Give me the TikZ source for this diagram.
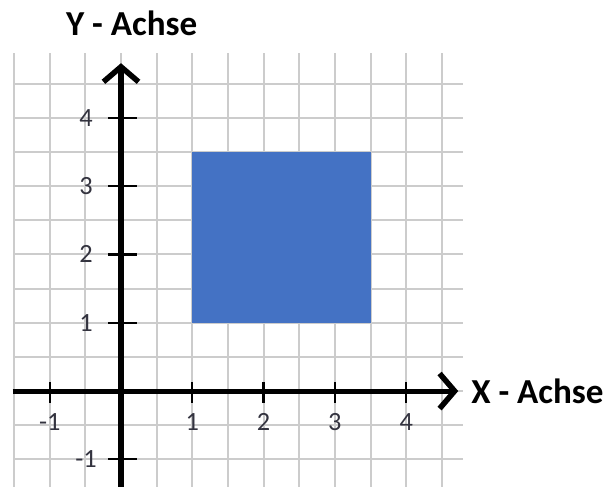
\documentclass[tikz,border=0pt]{standalone}
\usepackage{fontspec}
\setmainfont{Carlito}
\usetikzlibrary{arrows.meta}
\definecolor{flaeche}{HTML}{4472C4}
\definecolor{gitter}{HTML}{CCCCCC}
\definecolor{zahl}{HTML}{33333F}

\begin{document}
\begin{tikzpicture}[
  x = 1cm, y = 0.958cm,
  every node/.style = {font=\fontsize{10.5}{12}\selectfont, text=zahl, inner sep=1pt},
  achse/.style = {line width=2pt, line cap=butt,
    -{Straight Barb[length=6pt,width=14pt,line width=2.2pt]}},
  strich/.style = {line width=0.9pt},
  titel/.style = {font=\fontsize{14}{16}\selectfont\bfseries, text=black}
]
\useasboundingbox (-1.697,-1.391) rectangle (6.802,5.725);

% Gitter
\foreach \x in {-1.5,-1,...,4.5}
  \draw[gitter, line width=0.8pt] (\x,-1.5) -- (\x,4.95);
\foreach \y in {-1,-0.5,...,4.5}
  \draw[gitter, line width=0.8pt] (-1.5,\y) -- (4.8,\y);

% Rechteck
\fill[flaeche] (1,1) rectangle (3.5,3.5);

% Achsen
\coordinate (xa) at (-1.52,0);
\coordinate (xe) at (4.73,0);
\coordinate (ya) at (0,-1.5);
\coordinate (ye) at (0,4.8);
\draw[achse] (xa) -- (xe);
\draw[achse] (ya) -- (ye);
\node[titel, anchor=west] (xl) at ([xshift=4pt]xe) {X - Achse};
\node[titel] (yl) at (0.15,5.38) {Y - Achse};

% Teilstriche
\foreach \x in {-1,1,2,3,4} {
  \draw[strich] (\x,0.13) -- (\x,-0.17);
  \node (xt\x) at (\x,-0.45) {\x};
}
\foreach \y in {-1,1,2,3,4} {
  \draw[strich] (-0.18,\y) -- (0.22,\y);
  \node (yt\y) at (-0.49,\y) {\y};
}
\end{tikzpicture}
\end{document}
